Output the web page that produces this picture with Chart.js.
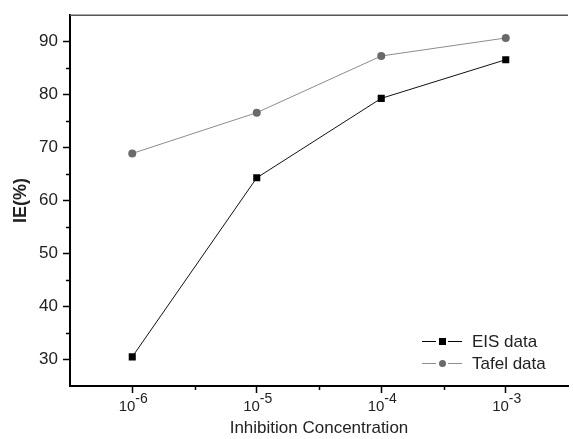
<!DOCTYPE html>
<html>
<head>
<meta charset="utf-8">
<script src="https://cdn.jsdelivr.net/npm/chart.js@4/dist/chart.umd.min.js"></script>
<style>
html, body { margin: 0; padding: 0; background: #fff; }
</style>
</head>
<body>
<canvas id="ieChart" width="573" height="439"></canvas>
<script>
// Inhibition concentration as log10 exponent
const exponents = [-6, -5, -4, -3];
const eisData = [30.5, 64.3, 79.3, 86.6];
const tafelData = [68.9, 76.6, 87.3, 90.7];
const seriesNames = ['EIS data', 'Tafel data'];
const yTicks = [30, 40, 50, 60, 70, 80, 90];
// minor tick positions
const yMinor = [35, 45, 55, 65, 75, 85];
const xMinor = [-5.5, -4.5, -3.5];

const FONT = "'Liberation Sans', Arial, sans-serif";

function toPoints(vals) {
    return exponents.map((e, i) => ({ x: e, y: vals[i] }));
}

// Draws top frame, minor ticks, superscript x labels and the legend
const extras = {
    id: 'extras',
    afterDraw(chart) {
        const ctx = chart.ctx;
        const area = chart.chartArea;
        const xs = chart.scales.x;
        const ys = chart.scales.y;
        ctx.save();

        // top frame line
        ctx.strokeStyle = '#555';
        ctx.lineWidth = 1.5;
        ctx.beginPath();
        ctx.moveTo(area.left, area.top);
        ctx.lineTo(area.right, area.top);
        ctx.stroke();

        // minor ticks
        ctx.strokeStyle = '#000';
        ctx.lineWidth = 1.5;
        yMinor.forEach(v => {
            const y = Math.round(ys.getPixelForValue(v)) + 0.5;
            ctx.beginPath();
            ctx.moveTo(area.left - 4, y);
            ctx.lineTo(area.left, y);
            ctx.stroke();
        });
        xMinor.forEach(v => {
            const x = Math.round(xs.getPixelForValue(v)) + 0.5;
            ctx.beginPath();
            ctx.moveTo(x, area.bottom);
            ctx.lineTo(x, area.bottom + 4);
            ctx.stroke();
        });

        // x tick labels: 10 with superscript exponent
        ctx.fillStyle = '#222';
        ctx.textBaseline = 'alphabetic';
        ctx.textAlign = 'left';
        exponents.forEach(e => {
            const x = xs.getPixelForValue(e);
            ctx.font = '15px ' + FONT;
            const base = '10';
            const wb = ctx.measureText(base).width;
            ctx.font = '14px ' + FONT;
            const sup = String(e);
            const ws = ctx.measureText(sup).width;
            const start = x - (wb + ws) / 2 + 1;
            ctx.font = '15px ' + FONT;
            ctx.fillText(base, start, area.bottom + 25);
            ctx.font = '14px ' + FONT;
            ctx.fillText(sup, start + wb, area.bottom + 17);
        });

        // legend
        const rows = [
            { name: seriesNames[0], color: '#000', line: '#000', style: 'rect', y: area.bottom - 45 },
            { name: seriesNames[1], color: '#6a6a6a', line: '#8c8c8c', style: 'circle', y: area.bottom - 23 }
        ];
        rows.forEach(r => {
            const x0 = area.right - 146;
            ctx.strokeStyle = r.line;
            ctx.lineWidth = 1;
            ctx.beginPath();
            ctx.moveTo(x0, r.y + 0.5);
            ctx.lineTo(x0 + 14, r.y + 0.5);
            ctx.moveTo(x0 + 26, r.y + 0.5);
            ctx.lineTo(x0 + 40, r.y + 0.5);
            ctx.stroke();
            ctx.fillStyle = r.color;
            if (r.style === 'rect') {
                ctx.fillRect(x0 + 17, r.y - 3, 7, 7);
            } else {
                ctx.beginPath();
                ctx.arc(x0 + 20.5, r.y + 0.5, 3.5, 0, Math.PI * 2);
                ctx.fill();
            }
            ctx.fillStyle = '#222';
            ctx.font = '17px ' + FONT;
            ctx.textBaseline = 'middle';
            ctx.fillText(r.name, x0 + 50, r.y + 1);
        });

        ctx.restore();
    }
};

const ctx = document.getElementById('ieChart').getContext('2d');
const ieChart = new Chart(ctx, {
    type: 'line',
    data: {
        datasets: [{
            label: seriesNames[0],
            data: toPoints(eisData),
            borderColor: '#111',
            backgroundColor: '#000',
            borderWidth: 1,
            pointStyle: 'rect',
            pointRadius: 5,
            pointBorderWidth: 0,
            pointBackgroundColor: '#000'
        }, {
            label: seriesNames[1],
            data: toPoints(tafelData),
            borderColor: '#8c8c8c',
            backgroundColor: '#6a6a6a',
            borderWidth: 1,
            pointStyle: 'circle',
            pointRadius: 4,
            pointBorderWidth: 0,
            pointBackgroundColor: '#6a6a6a'
        }]
    },
    options: {
        responsive: false,
        animation: false,
        layout: { padding: { top: 14, right: 0, left: 0, bottom: 0 } },
        plugins: {
            legend: { display: false },
            tooltip: { enabled: false }
        },
        scales: {
            x: {
                type: 'linear',
                min: -6.5,
                max: -2.5,
                afterBuildTicks(scale) { scale.ticks = exponents.map(v => ({ value: v })); },
                ticks: { display: false },
                grid: { drawOnChartArea: false, tickLength: 7, tickColor: '#000', tickWidth: 1.5 },
                border: { color: '#000', width: 2 },
                title: {
                    display: true,
                    text: 'Inhibition Concentration',
                    color: '#222',
                    font: { family: FONT, size: 17 },
                    padding: { top: 0, bottom: 0 }
                },
                afterFit(scale) { scale.height = 53; }
            },
            y: {
                min: 25,
                max: 95,
                afterBuildTicks(scale) { scale.ticks = yTicks.map(v => ({ value: v })); },
                ticks: {
                    color: '#222',
                    padding: 5,
                    font: { family: FONT, size: 17 }
                },
                grid: { drawOnChartArea: false, tickLength: 7, tickColor: '#000', tickWidth: 1.5 },
                border: { color: '#000', width: 2 },
                title: {
                    display: true,
                    text: 'IE(%)',
                    color: '#222',
                    font: { family: FONT, size: 18, weight: 'bold' },
                    padding: { top: 10, bottom: 0 }
                },
                afterFit(scale) { scale.width = 70; }
            }
        }
    },
    plugins: [extras]
});
</script>
</body>
</html>
